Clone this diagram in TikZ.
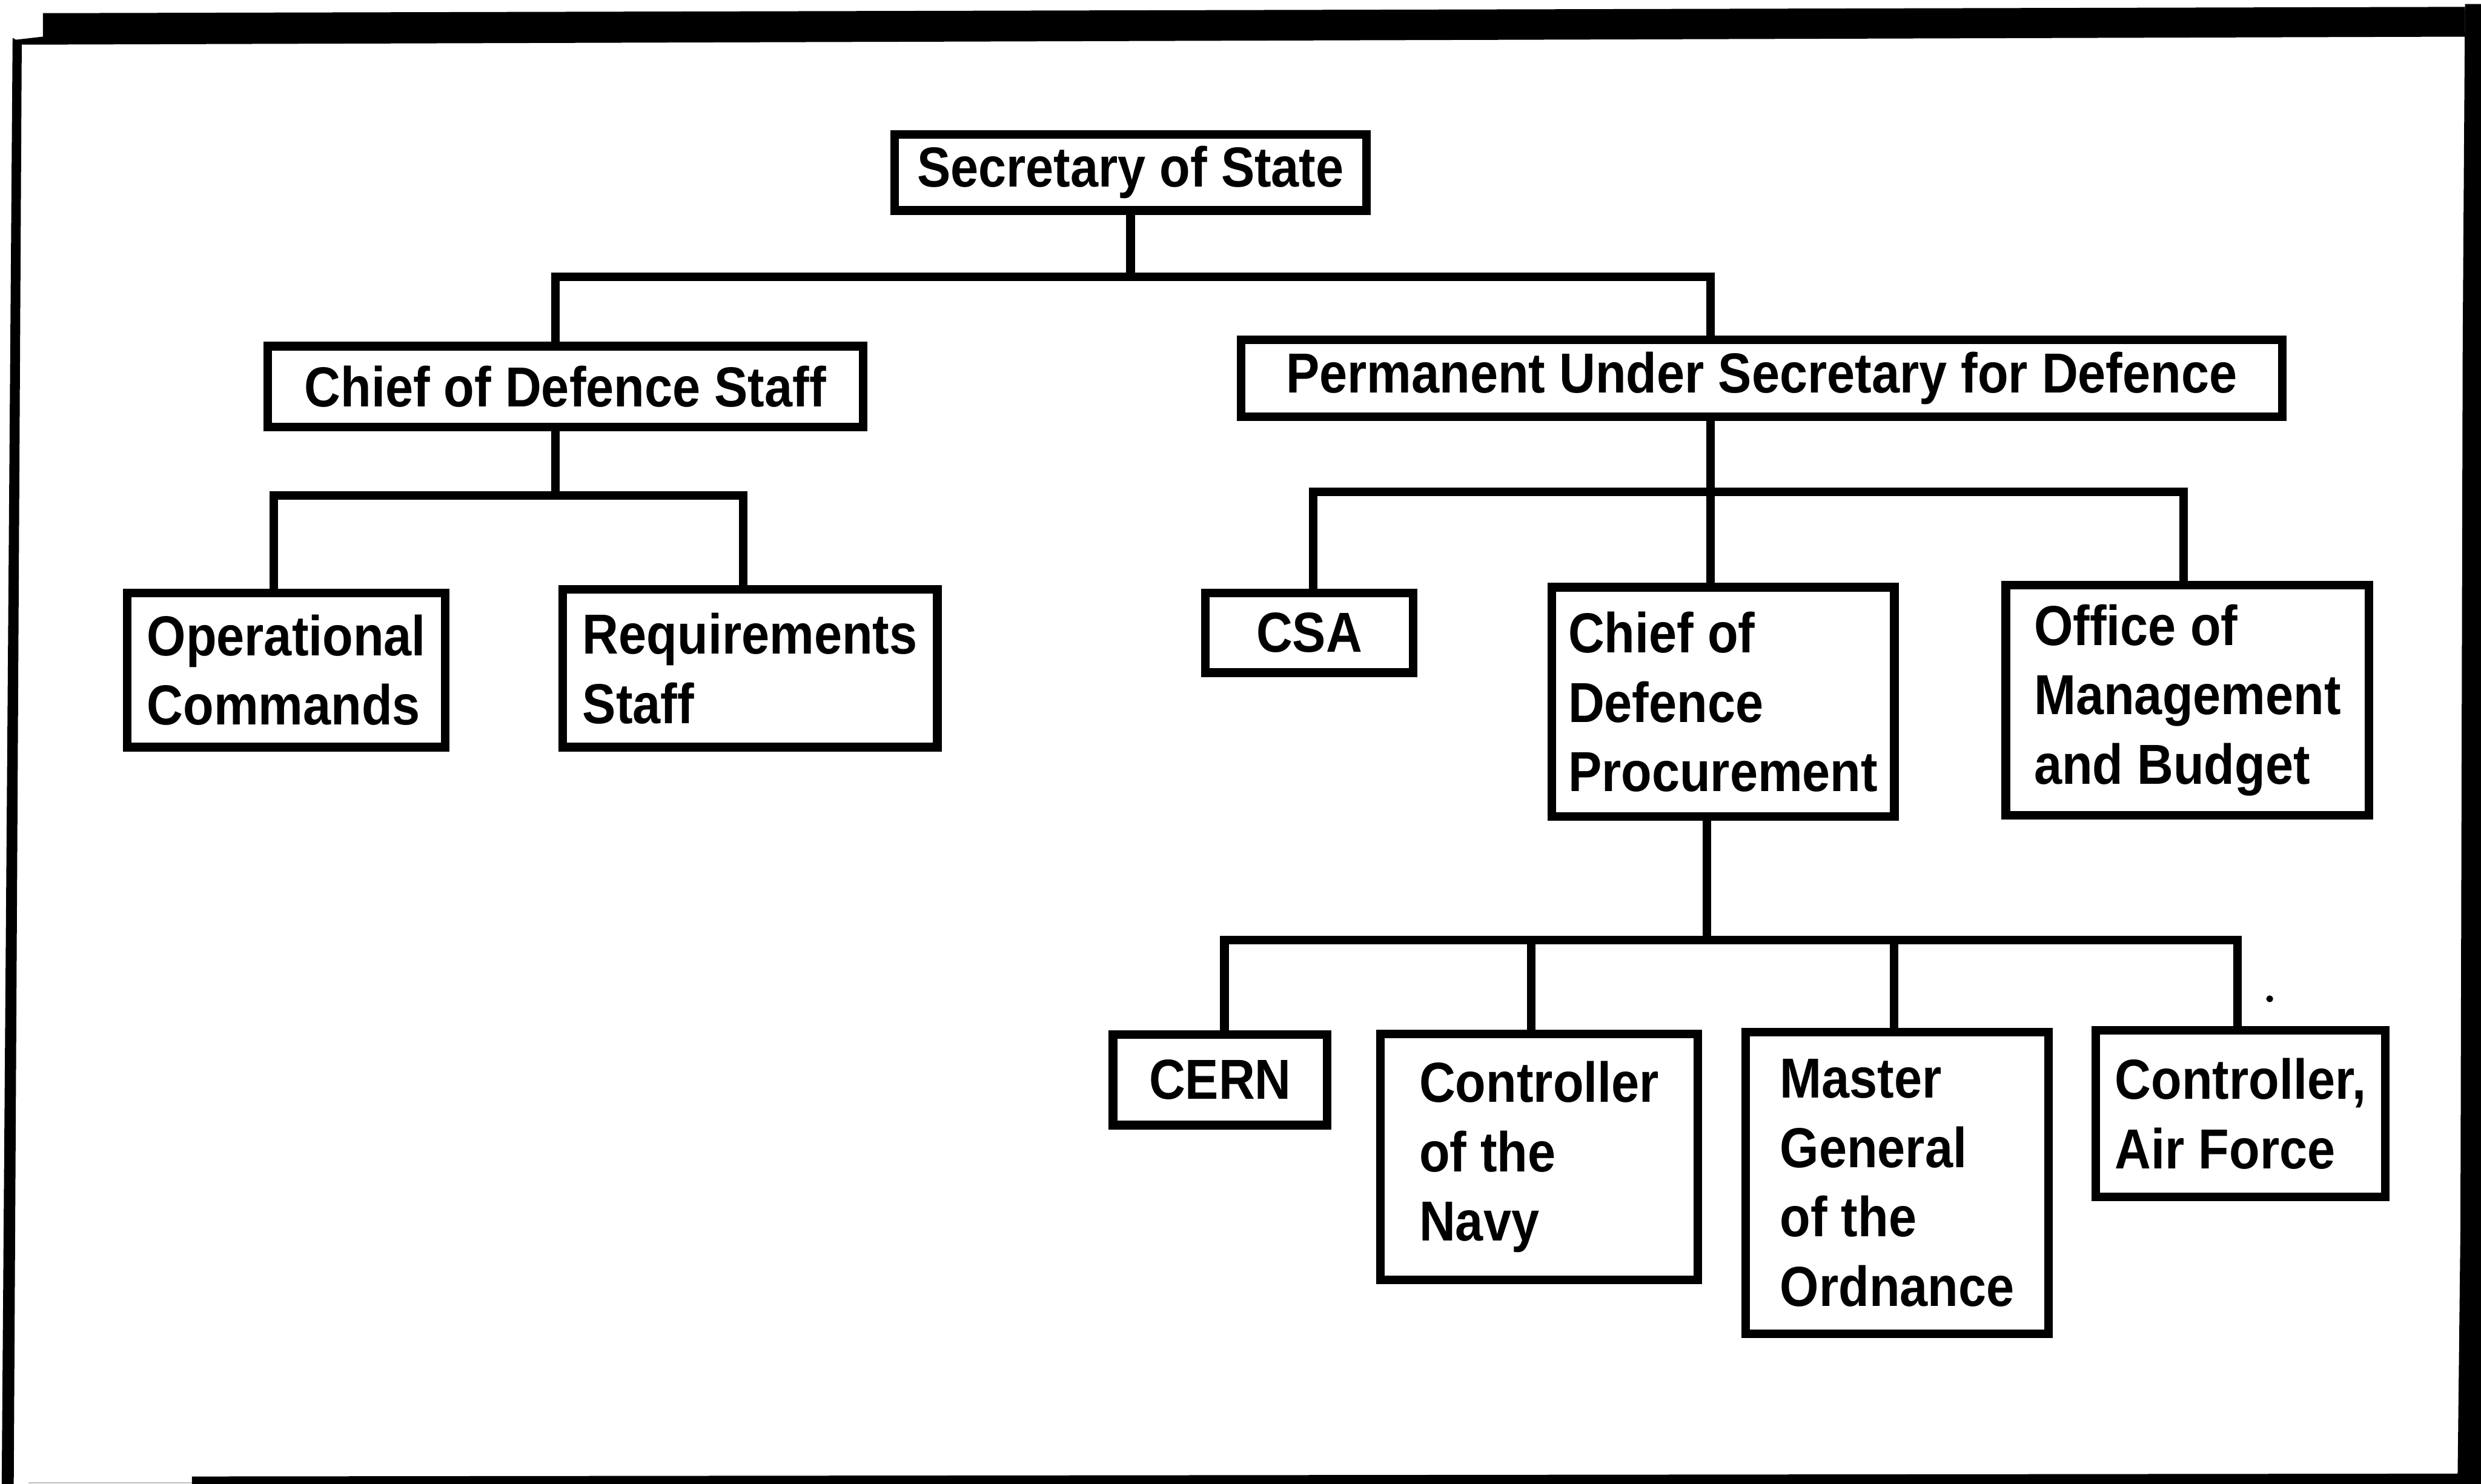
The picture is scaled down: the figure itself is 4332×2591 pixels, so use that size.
\documentclass[tikz,border=0pt]{standalone}
\usepackage{fontspec}
\setmainfont{Liberation Sans}[FakeStretch=0.89]
\begin{document}
\begin{tikzpicture}[x=0.01cm,y=-0.01cm,
  unit/.style={draw, line width=0.15cm, inner sep=0pt, align=left,
    font=\fontsize{28}{34.5}\selectfont\bfseries},
  link/.style={line width=0.15cm}]
\useasboundingbox (0,0) rectangle (4332,2591);

% heavy outer frame
\fill (22,70) -- (75,64) -- (75,23) -- (4304,12) -- (4304,64) -- (38,78) -- cycle;
\fill (22,66) -- (38,76) -- (24,2591) -- (3,2591) -- cycle;
\fill (4304,7) -- (4332,7) -- (4332,2591) -- (4291,2591) -- (4296,2150) -- (4300,600) -- cycle;
\fill (335,2578) -- (4296,2573) -- (4296,2591) -- (335,2591) -- cycle;
\draw[gray!50, line width=0.02cm] (50,2589) -- (335,2589);

% junction points of the connector bars
\coordinate (t1) at (1974,483);
\coordinate (b1l) at (970,483);
\coordinate (b1r) at (2987,483);
\coordinate (t2l) at (970,865);
\coordinate (b2la) at (478,865);
\coordinate (b2lb) at (1298,865);
\coordinate (t2r) at (2987,859);
\coordinate (b2ra) at (2293,859);
\coordinate (b2rc) at (3813,859);
\coordinate (t3) at (2980,1641);
\coordinate (b3a) at (2138,1641);
\coordinate (b3b) at (2674,1641);
\coordinate (b3c) at (3307,1641);
\coordinate (b3d) at (3907,1641);

% units
\node[unit, minimum width=8.23cm, minimum height=1.33cm] (sos) at (1974,301) {Secretary of State};
\node[unit, minimum width=10.39cm, minimum height=1.41cm] (cds) at (987,675) {Chief of Defence Staff};
\node[unit, minimum width=18.17cm, minimum height=1.34cm] (pus) at (3076,660.5) {Permanent Under Secretary for Defence};
\node[unit, minimum width=5.55cm, minimum height=2.69cm] (oc) at (500,1170) {Operational\\Commands};
\node[unit, minimum width=6.54cm, minimum height=2.75cm] (rs) at (1309.5,1167) {Requirements\\Staff};
\node[unit, minimum width=3.63cm, minimum height=1.39cm] (csa) at (2286,1105) {CSA};
\node[unit, minimum width=5.98cm, minimum height=4.00cm] (cdp) at (3008.5,1225.5) {Chief of\\Defence\\Procurement};
\node[unit, minimum width=6.34cm, minimum height=4.02cm] (omb) at (3819.5,1222.5) {Office of\\Management\\and Budget};
\node[unit, minimum width=3.74cm, minimum height=1.58cm] (cern) at (2130.5,1885.5) {CERN};
\node[unit, minimum width=5.54cm, minimum height=4.29cm] (navy) at (2687.5,2020) {Controller\\of the\\Navy};
\node[unit, minimum width=5.28cm, minimum height=5.26cm] (mgo) at (3312.5,2065.5) {Master\\General\\of the\\Ordnance};
\node[unit, minimum width=5.05cm, minimum height=2.90cm] (caf) at (3912,1944.5) {Controller,\\Air Force};

% connectors
\draw[link] (sos.south) -- (t1);
\draw[link] (cds.north -| b1l) -- (b1l) -- (b1r) -- (pus.north -| b1r);

\draw[link] (cds.south -| t2l) -- (t2l);
\draw[link] (oc.north -| b2la) -- (b2la) -- (b2lb) -- (rs.north -| b2lb);

\draw[link] (pus.south -| t2r) -- (t2r);
\draw[link] (csa.north -| b2ra) -- (b2ra) -- (b2rc) -- (omb.north -| b2rc);
\draw[link] (t2r) -- (cdp.north -| t2r);

\draw[link] (cdp.south -| t3) -- (t3);
\draw[link] (cern.north -| b3a) -- (b3a) -- (b3d) -- (caf.north -| b3d);
\draw[link] (b3b) -- (navy.north -| b3b);
\draw[link] (b3c) -- (mgo.north -| b3c);

% speck of ink beside the last bar
\fill (3963,1744) circle (6);
\end{tikzpicture}
\end{document}
